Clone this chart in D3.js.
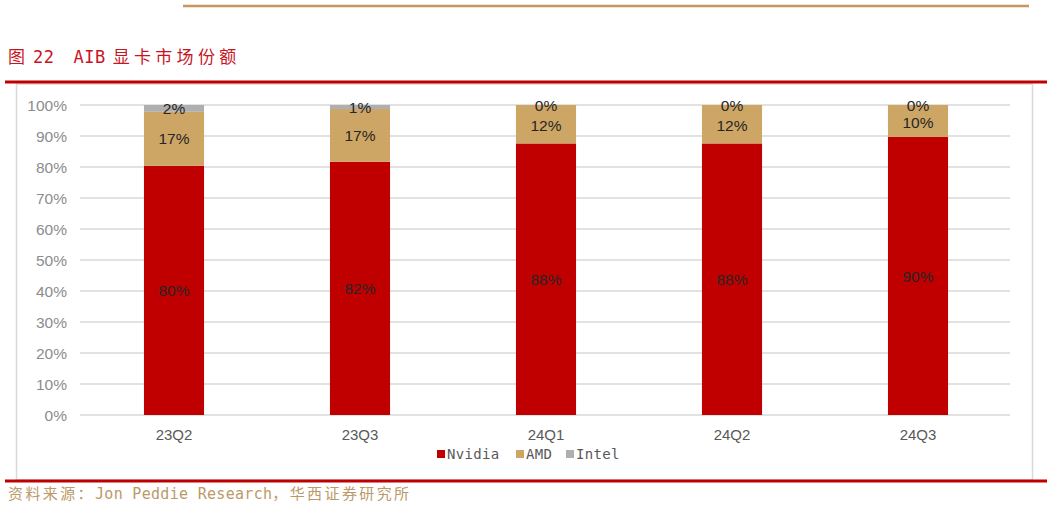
<!DOCTYPE html>
<html><head><meta charset="utf-8">
<script src="https://cdn.jsdelivr.net/npm/d3@7"></script>
<style>html,body{margin:0;padding:0;background:#fff;}svg{display:block;}</style>
</head><body>
<svg id="c" width="1053" height="508"></svg>
<script>
const categories = ["23Q2", "23Q3", "24Q1", "24Q2", "24Q3"];
const seriesNames = ["Nvidia", "AMD", "Intel"];
const nvidia = [80.4, 81.7, 87.6, 87.6, 89.7];
const amd = [17.4, 17.0, 12.4, 12.4, 10.3];
const intel = [2.2, 1.3, 0, 0, 0];
const yTicks = [0, 10, 20, 30, 40, 50, 60, 70, 80, 90, 100];
const colors = ["#C00000", "#CDA564", "#AFAFAF"];

const svg = d3.select("#c");
const CJK = "'Noto Sans CJK SC'";
const MONO = "'DejaVu Sans Mono'";

// decorative lines
svg.append("line").attr("x1", 183).attr("x2", 1029).attr("y1", 6).attr("y2", 6)
  .attr("stroke", "#C4975A").attr("stroke-width", 2.5);

// title
const title = svg.append("text").attr("x", 8).attr("y", 63).attr("fill", "#C8141E").attr("font-size", 17);
title.append("tspan").attr("font-family", CJK).text("图");
title.append("tspan").attr("font-family", MONO).attr("dx", 8).attr("letter-spacing", 0.5).text("22");
title.append("tspan").attr("font-family", MONO).attr("dx", 19).attr("letter-spacing", 0.5).text("AIB");
title.append("tspan").attr("font-family", CJK).attr("dx", 7).attr("letter-spacing", 4.3).text("显卡市场份额");

// frame
svg.append("rect").attr("x", 16.5).attr("y", 84).attr("width", 1016).attr("height", 396)
  .attr("fill", "none").attr("stroke", "#D9D9D9").attr("stroke-width", 1.5);
svg.append("line").attr("x1", 5).attr("x2", 1047).attr("y1", 82).attr("y2", 82)
  .attr("stroke", "#C00000").attr("stroke-width", 3);
svg.append("line").attr("x1", 5).attr("x2", 1047).attr("y1", 481).attr("y2", 481)
  .attr("stroke", "#C00000").attr("stroke-width", 3);

// source
const src = svg.append("text").attr("x", 8).attr("y", 499).attr("fill", "#BC9968").attr("font-size", 15);
src.append("tspan").attr("font-family", CJK).attr("letter-spacing", 2.4).text("资料来源：");
src.append("tspan").attr("font-family", MONO).attr("letter-spacing", 0.3).text("Jon Peddie Research");
src.append("tspan").attr("font-family", CJK).attr("letter-spacing", 2.4).text("，华西证券研究所");

// scales
const x = d3.scaleBand().domain(categories).range([81, 1011]).paddingInner(0.677).paddingOuter(0.3385);
const y = d3.scaleLinear().domain([0, 100]).range([415, 105]);

// grid
const yAxis = d3.axisLeft(y).tickValues(yTicks).tickSize(0).tickPadding(0).tickFormat(d => d + "%");
const ga = svg.append("g").attr("transform", "translate(67,0)").call(yAxis);
ga.select(".domain").remove();
ga.selectAll("text").attr("font-family", "'Liberation Sans', Arial").attr("font-size", 15.5)
  .attr("fill", "#8C8C8C").attr("dy", "0.35em");
svg.append("g").selectAll("line").data(yTicks).join("line")
  .attr("x1", 80).attr("x2", 1010).attr("y1", d => y(d)).attr("y2", d => y(d))
  .attr("stroke", "#D9D9D9").attr("stroke-width", 1.3);

// stacked data
const rows = categories.map((c, i) => ({cat: c, Nvidia: nvidia[i], AMD: amd[i], Intel: intel[i]}));
const stack = d3.stack().keys(seriesNames)(rows);

const layers = svg.append("g").selectAll("g").data(stack).join("g").attr("fill", (d, i) => colors[i]);
layers.selectAll("rect").data(d => d).join("rect")
  .attr("x", d => x(d.data.cat)).attr("width", x.bandwidth())
  .attr("y", d => y(d[1])).attr("height", d => y(d[0]) - y(d[1]));

// labels
const lbl = svg.append("g");
stack.forEach(layer => {
  layer.forEach(d => {
    const v = d[1] - d[0];
    let yy = (y(d[0]) + y(d[1])) / 2;
    if (layer.key === "Intel" && v === 0) yy = y(d[1]) + 0.5;
    if (layer.key === "AMD" && d.data.Intel === 0) yy += 1.5;
    lbl.append("text").attr("x", x(d.data.cat) + x.bandwidth() / 2).attr("y", yy)
      .attr("dy", "0.36em").attr("text-anchor", "middle")
      .attr("font-family", "'Liberation Sans', Arial").attr("font-size", 15.5).attr("fill", "#262626")
      .text(Math.round(v) + "%");
  });
});

// x axis labels
const xAxis = d3.axisBottom(x).tickSize(0).tickPadding(0);
const gx = svg.append("g").attr("transform", "translate(0,429)").call(xAxis);
gx.select(".domain").remove();
gx.selectAll("text").attr("font-family", "'Liberation Sans', Arial").attr("font-size", 15)
  .attr("fill", "#595959").attr("dy", "0.71em").attr("y", 0);

// legend
const legX = [437, 516, 566];
const leg = svg.append("g").selectAll("g").data(seriesNames).join("g")
  .attr("transform", (d, i) => `translate(${legX[i]},454)`);
leg.append("rect").attr("x", 0).attr("y", -4).attr("width", 8).attr("height", 8).attr("fill", (d, i) => colors[i]);
leg.append("text").attr("x", 10).attr("y", 0).attr("dy", "0.36em")
  .attr("font-family", MONO).attr("font-size", 14).attr("fill", "#595959").attr("letter-spacing", 0.3)
  .text(d => d);
</script>
</body></html>
